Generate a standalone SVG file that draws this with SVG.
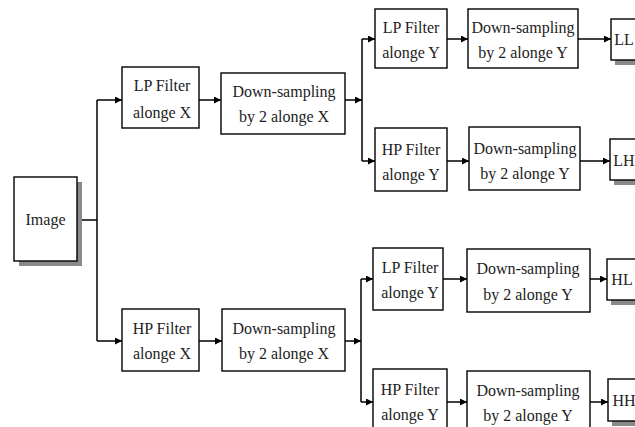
<svg xmlns="http://www.w3.org/2000/svg" width="635" height="427" viewBox="0 0 635 427">
<style>
.box{fill:#fff;stroke:#000;stroke-width:1.4}
.sh{fill:#8a8a8a}
.t{font-family:"Liberation Serif","Times New Roman",serif;font-size:16px;fill:#222;text-anchor:middle}
.c{fill:none;stroke:#000;stroke-width:1.5}
</style>
<defs>
<marker id="ah" viewBox="0 0 10 10" refX="10" refY="5" markerWidth="8" markerHeight="7" markerUnits="userSpaceOnUse" orient="auto">
<path d="M0,0 L10,5 L0,10 z" fill="#000"/>
</marker>
</defs>
<rect width="635" height="427" fill="#fff"/>
<g id="connectors">
<path class="c" d="M77,220 H97"/>
<path class="c" d="M97,100 V341"/>
<path class="c" d="M97,100 H122" marker-end="url(#ah)"/>
<path class="c" d="M97,341 H122" marker-end="url(#ah)"/>
<path class="c" d="M199,100 H221" marker-end="url(#ah)"/>
<path class="c" d="M345,100 H362" marker-end="url(#ah)"/>
<path class="c" d="M362,39 V161"/>
<path class="c" d="M362,39 H375" marker-end="url(#ah)"/>
<path class="c" d="M362,161 H375" marker-end="url(#ah)"/>
<path class="c" d="M447,39 H468" marker-end="url(#ah)"/>
<path class="c" d="M578,39 H611" marker-end="url(#ah)"/>
<path class="c" d="M447,161 H469" marker-end="url(#ah)"/>
<path class="c" d="M580,161 H610" marker-end="url(#ah)"/>
<path class="c" d="M199,341 H222" marker-end="url(#ah)"/>
<path class="c" d="M345,341 H361" marker-end="url(#ah)"/>
<path class="c" d="M361,279 V402"/>
<path class="c" d="M361,279 H373" marker-end="url(#ah)"/>
<path class="c" d="M361,402 H373" marker-end="url(#ah)"/>
<path class="c" d="M443,279 H467" marker-end="url(#ah)"/>
<path class="c" d="M590,279 H607" marker-end="url(#ah)"/>
<path class="c" d="M447,402 H467" marker-end="url(#ah)"/>
<path class="c" d="M590,402 H608" marker-end="url(#ah)"/>
</g>
<g id="image">
<rect class="sh" x="19" y="182" width="63" height="84"/>
<rect class="box" x="14" y="177" width="63" height="84"/>
<text class="t" x="45.5" y="225">Image</text>
</g>
<g id="lp-x">
<rect class="box" x="122" y="67" width="77" height="61"/>
<text class="t" x="162" y="91">LP Filter</text>
<text class="t" x="162" y="118">alonge X</text>
</g>
<g id="ds-x-top">
<rect class="box" x="221" y="73" width="124" height="61"/>
<text class="t" x="284" y="97">Down-sampling</text>
<text class="t" x="284" y="122">by 2 alonge X</text>
</g>
<g id="lp-y-top">
<rect class="box" x="375" y="9" width="72" height="59"/>
<text class="t" x="411" y="33">LP Filter</text>
<text class="t" x="411" y="58">alonge Y</text>
</g>
<g id="ds-y-1">
<rect class="box" x="468" y="9" width="110" height="59"/>
<text class="t" x="523" y="33">Down-sampling</text>
<text class="t" x="523" y="58">by 2 alonge Y</text>
</g>
<g id="ll">
<rect class="sh" x="615" y="24" width="30" height="41"/>
<rect class="box" x="611" y="19" width="34" height="41"/>
<text class="t" x="624" y="45">LL</text>
</g>
<g id="hp-y-top">
<rect class="box" x="375" y="128" width="72" height="63"/>
<text class="t" x="411" y="155">HP Filter</text>
<text class="t" x="411" y="180">alonge Y</text>
</g>
<g id="ds-y-2">
<rect class="box" x="469" y="127" width="111" height="63"/>
<text class="t" x="525" y="154">Down-sampling</text>
<text class="t" x="525" y="179">by 2 alonge Y</text>
</g>
<g id="lh">
<rect class="sh" x="614" y="144" width="30" height="41"/>
<rect class="box" x="610" y="139" width="34" height="41"/>
<text class="t" x="624" y="166">LH</text>
</g>
<g id="hp-x">
<rect class="box" x="122" y="309" width="77" height="62"/>
<text class="t" x="162" y="334">HP Filter</text>
<text class="t" x="162" y="359">alonge X</text>
</g>
<g id="ds-x-bottom">
<rect class="box" x="222" y="309" width="123" height="62"/>
<text class="t" x="284" y="334">Down-sampling</text>
<text class="t" x="284" y="359">by 2 alonge X</text>
</g>
<g id="lp-y-bottom">
<rect class="box" x="373" y="248" width="70" height="62"/>
<text class="t" x="410" y="273">LP Filter</text>
<text class="t" x="410" y="298">alonge Y</text>
</g>
<g id="ds-y-3">
<rect class="box" x="467" y="249" width="123" height="63"/>
<text class="t" x="528" y="274">Down-sampling</text>
<text class="t" x="528" y="300">by 2 alonge Y</text>
</g>
<g id="hl">
<rect class="sh" x="611" y="264" width="30" height="41"/>
<rect class="box" x="607" y="259" width="34" height="41"/>
<text class="t" x="622" y="285">HL</text>
</g>
<g id="hp-y-bottom">
<rect class="box" x="373" y="369" width="74" height="62"/>
<text class="t" x="410" y="395">HP Filter</text>
<text class="t" x="410" y="420">alonge Y</text>
</g>
<g id="ds-y-4">
<rect class="box" x="467" y="371" width="123" height="62"/>
<text class="t" x="528" y="396">Down-sampling</text>
<text class="t" x="528" y="421">by 2 alonge Y</text>
</g>
<g id="hh">
<rect class="sh" x="612" y="384" width="30" height="42"/>
<rect class="box" x="608" y="379" width="34" height="42"/>
<text class="t" x="624" y="406">HH</text>
</g>
</svg>
